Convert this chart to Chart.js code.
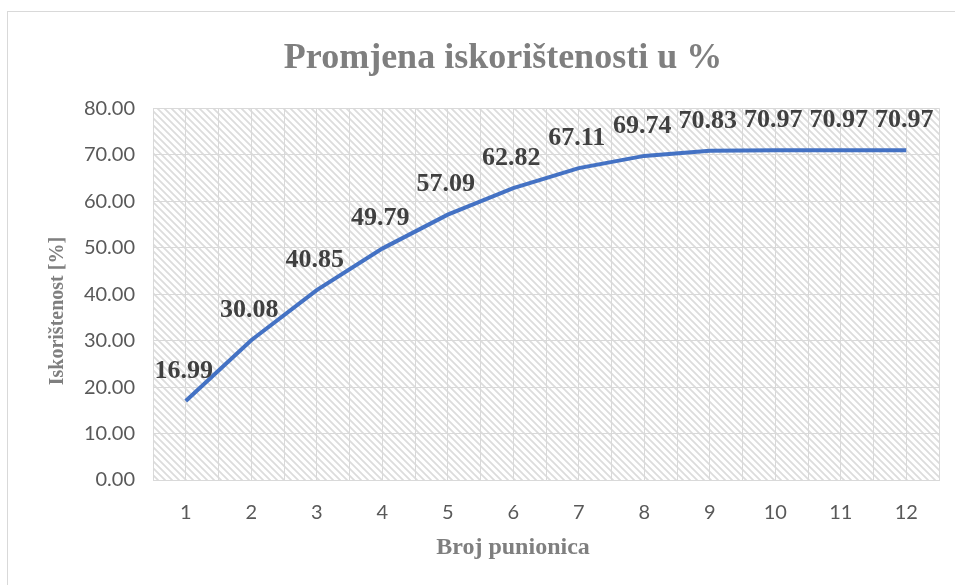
<!DOCTYPE html>
<html>
<head>
<meta charset="utf-8">
<script src="https://cdn.jsdelivr.net/npm/chart.js@4"></script>
<style>
  html, body { margin: 0; padding: 0; background: #fff; overflow: hidden; }
  #okvir { position: absolute; left: 7px; top: 11px; width: 1000px; height: 700px; border: 1px solid #d9d9d9; }
  #wrap { position: absolute; left: 0; top: 0; width: 955px; height: 585px; }
</style>
</head>
<body>
<div id="okvir"></div>
<div id="wrap"><canvas id="grafikon"></canvas></div>
<script>
const brojPunionica = [1, 2, 3, 4, 5, 6, 7, 8, 9, 10, 11, 12];
const iskoristenost = [16.99, 30.08, 40.85, 49.79, 57.09, 62.82, 67.11, 69.74, 70.83, 70.97, 70.97, 70.97];
const yMin = 0, yMax = 80, yKorak = 10;
const naslovX = 'Broj punionica';
const naslovY = 'Iskorištenost [%]';

const serif = '"Liberation Serif", "Times New Roman", serif';

// srafura pozadine (kao u Excelu)
function napraviSrafuru() {
    const p = 7;
    const c = document.createElement('canvas');
    c.width = p; c.height = p;
    const g = c.getContext('2d');
    g.fillStyle = '#ffffff';
    g.fillRect(0, 0, p, p);
    g.strokeStyle = '#dcdcdc';
    g.lineWidth = 1.8;
    g.beginPath();
    g.moveTo(-1, -1); g.lineTo(p + 1, p + 1);
    g.moveTo(-1, p - 1); g.lineTo(1, p + 1);
    g.moveTo(p - 1, -1); g.lineTo(p + 1, 1);
    g.stroke();
    return g.createPattern(c, 'repeat');
}

const pozadina = {
    id: 'pozadina',
    beforeDraw(chart) {
        const a = chart.chartArea;
        const ctx = chart.ctx;
        ctx.save();
        ctx.fillStyle = napraviSrafuru();
        ctx.fillRect(a.left, a.top, a.right - a.left, a.bottom - a.top);
        ctx.restore();
    }
};

// vrijednosti iznad tocaka + naslovi osi (pomaknuti kao u Excelu)
const oznake = {
    id: 'oznake',
    afterDatasetsDraw(chart) {
        const ctx = chart.ctx;
        const a = chart.chartArea;
        const meta = chart.getDatasetMeta(0);
        ctx.save();
        ctx.font = 'bold 26px ' + serif;
        ctx.fillStyle = '#404040';
        ctx.textAlign = 'center';
        ctx.textBaseline = 'middle';
        meta.data.forEach((pt, i) => {
            ctx.fillText(iskoristenost[i].toFixed(2), pt.x - 2, pt.y - 30);
        });

        ctx.fillStyle = '#7f7f7f';
        ctx.font = 'bold 24px ' + serif;
        ctx.fillText(naslovX, (a.left + a.right) / 2 - 33, a.bottom + 68);

        ctx.font = 'bold 20px ' + serif;
        ctx.translate(a.left - 95, (a.top + a.bottom) / 2 + 17);
        ctx.rotate(-Math.PI / 2);
        ctx.fillText(naslovY, 0, 0);
        ctx.restore();
    }
};

const ctx = document.getElementById('grafikon').getContext('2d');
new Chart(ctx, {
    type: 'line',
    data: {
        datasets: [{
            label: 'Iskorištenost',
            data: brojPunionica.map((b, i) => ({ x: b, y: iskoristenost[i] })),
            borderColor: '#4472C4',
            borderWidth: 4,
            pointRadius: 0,
            tension: 0,
            fill: false
        }]
    },
    options: {
        responsive: true,
        maintainAspectRatio: false,
        animation: false,
        layout: { padding: { left: 67, right: 16, top: 15, bottom: 20 } },
        plugins: {
            legend: { display: false },
            tooltip: { enabled: false },
            title: {
                display: true,
                text: 'Promjena iskorištenosti u %',
                color: '#7f7f7f',
                font: { family: serif, size: 36, weight: 'bold' },
                padding: { top: 22, bottom: 28 }
            }
        },
        scales: {
            x: {
                type: 'linear',
                min: 0.5,
                max: 12.5,
                afterFit: (s) => { s.height = 85; s.paddingLeft = 0; s.paddingRight = 0; },
                grid: { color: '#d9d9d9', drawTicks: false },
                border: { color: '#d9d9d9' },
                ticks: {
                    stepSize: 0.5,
                    autoSkip: false,
                    maxRotation: 0,
                    padding: 21,
                    color: '#595959',
                    font: { family: 'Lato, sans-serif', size: 20 },
                    callback: (v) => Number.isInteger(v) ? String(v) : ''
                }
            },
            y: {
                min: yMin,
                max: yMax,
                afterFit: (s) => { s.width = 86; },
                grid: { color: '#d9d9d9', drawTicks: false },
                border: { color: '#d9d9d9' },
                ticks: {
                    stepSize: yKorak,
                    padding: 18,
                    color: '#595959',
                    font: { family: 'Lato, sans-serif', size: 20 },
                    callback: (v) => v.toFixed(2)
                }
            }
        }
    },
    plugins: [pozadina, oznake]
});
</script>
</body>
</html>
